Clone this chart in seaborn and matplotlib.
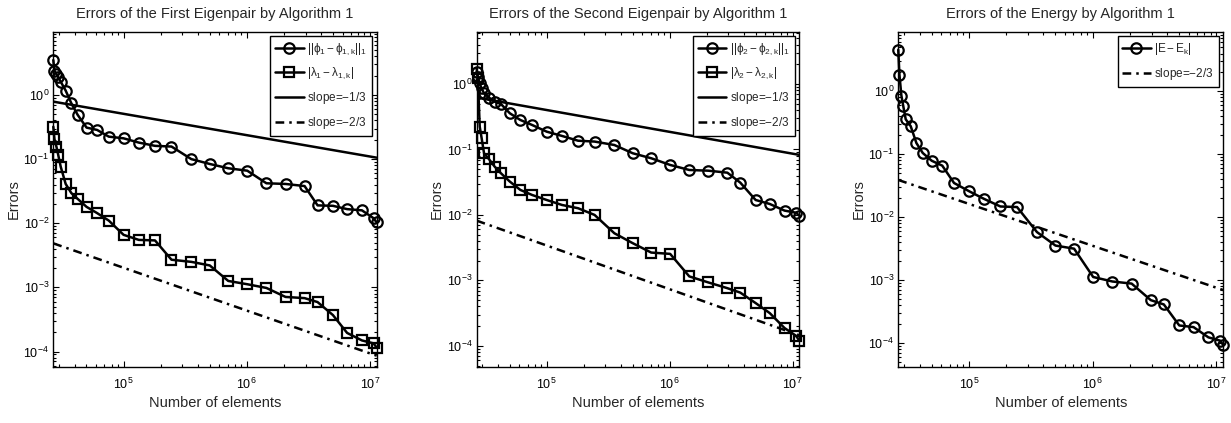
import numpy as np
import pandas as pd
import matplotlib
matplotlib.use("Agg")
import matplotlib.pyplot as plt
import seaborn as sns
from matplotlib.ticker import LogLocator, NullFormatter

# ---------------- data ----------------
n_elements = [26900, 27500, 28500, 29500, 30900, 33900, 37700, 42400, 50100, 61000,
              75900, 100000, 133000, 180000, 245000, 355000, 501000, 708000, 1010000,
              1445000, 2065000, 2950000, 3760000, 5010000, 6530000, 8610000, 10700000,
              11350000]

phi1_err = [3.5, 2.39, 2.12, 1.88, 1.61, 1.17, 0.74, 0.49, 0.31, 0.285, 0.224, 0.211,
            0.181, 0.161, 0.157, 0.100, 0.084, 0.072, 0.066, 0.042, 0.041, 0.038, 0.019,
            0.0187, 0.0166, 0.0159, 0.0120, 0.0103]
lam1_err = [0.32, 0.204, 0.157, 0.116, 0.076, 0.041, 0.0295, 0.024, 0.018, 0.0144, 0.011,
            0.0066, 0.0055, 0.0054, 0.0027, 0.0025, 0.0022, 0.00126, 0.00112, 0.00098,
            0.00071, 0.00068, 0.00059, 0.00037, 0.000195, 0.000149, 0.000134, 0.000115]

phi2_err = [1.54, 1.29, 1.02, 0.86, 0.72, 0.62, 0.537, 0.495, 0.357, 0.282, 0.237, 0.187,
            0.161, 0.136, 0.132, 0.117, 0.0875, 0.0734, 0.058, 0.0486, 0.0474, 0.0442,
            0.0311, 0.0169, 0.0147, 0.01164, 0.0108, 0.0097]
lam2_err = [1.7, 1.25, 0.223, 0.151, 0.0875, 0.071, 0.0547, 0.0433, 0.0323, 0.0241, 0.0202,
            0.0169, 0.0142, 0.01265, 0.010, 0.00525, 0.0037, 0.00266, 0.00254, 0.00115,
            0.00093, 0.00076, 0.00065, 0.00045, 0.000316, 0.000187, 0.000142, 0.00012]

energy_err = [4.6, 1.84, 0.86, 0.59, 0.36, 0.28, 0.151, 0.105, 0.079, 0.066, 0.035, 0.026,
              0.0195, 0.0148, 0.0145, 0.0058, 0.00354, 0.00316, 0.00112, 0.00095, 0.00088,
              0.00048, 0.00041, 0.00019, 0.000179, 0.000123, 0.000109, 0.000093]

# reference slope lines (end points)
ref_x = [n_elements[0], n_elements[-1]]
ref1_slope13 = [0.787, 0.1053]
ref1_slope23 = [0.00486, 0.000086]
ref2_slope13 = [0.62, 0.0827]
ref2_slope23 = [0.00818, 0.000145]
ref3_slope23 = [0.0391, 0.000695]

titles = ["Errors of the First Eigenpair by Algorithm 1",
          "Errors of the Second Eigenpair by Algorithm 1",
          "Errors of the Energy by Algorithm 1"]
ylims = [(5.8e-5, 9.7), (4.8e-5, 6.3), (4.2e-5, 8.9)]

# ---------------- style ----------------
sns.set_theme(style="ticks")
plt.rcParams["font.family"] = ["Liberation Sans", "DejaVu Sans"]
plt.rcParams["mathtext.fontset"] = "custom"
plt.rcParams["mathtext.rm"] = "Liberation Sans"
plt.rcParams["mathtext.it"] = "Liberation Sans"
plt.rcParams["mathtext.bf"] = "Liberation Sans:bold"
plt.rcParams["axes.edgecolor"] = "black"
plt.rcParams["axes.linewidth"] = 1.0

fig = plt.figure(figsize=(12.31, 4.23), dpi=100)
positions = [[0.0433, 0.1331, 0.2627, 0.792],
             [0.3872, 0.1331, 0.2621, 0.792],
             [0.7297, 0.1331, 0.2640, 0.792]]
axes = [fig.add_axes(p) for p in positions]

LW = 1.8
dashdot = (0, (3.5, 2.0, 1.0, 2.0))

circ = dict(marker="o", markersize=7.5, markerfacecolor="none", markeredgecolor="black",
            markeredgewidth=1.6)
sq = dict(marker="s", markersize=6.5, markerfacecolor="none", markeredgecolor="black",
          markeredgewidth=1.6)


def series(ax, x, y, label, clip=True, **kw):
    df = pd.DataFrame({"x": x, "y": y})
    sns.lineplot(data=df, x="x", y="y", ax=ax, color="black", linewidth=LW,
                 label=label, sort=False, estimator=None, **kw)
    if not clip:
        ax.lines[-1].set_clip_on(False)


# panel 1
ax = axes[0]
series(ax, n_elements, phi1_err, r"$||\phi_1-\phi_{1,k}||_1$", clip=False, **circ)
series(ax, n_elements, lam1_err, r"$|\lambda_1-\lambda_{1,k}|$", clip=False, **sq)
series(ax, ref_x, ref1_slope13, r"slope=$-$1/3")
series(ax, ref_x, ref1_slope23, r"slope=$-$2/3", linestyle=dashdot)

# panel 2
ax = axes[1]
series(ax, n_elements, phi2_err, r"$||\phi_2-\phi_{2,k}||_1$", clip=False, **circ)
series(ax, n_elements, lam2_err, r"$|\lambda_2-\lambda_{2,k}|$", clip=False, **sq)
series(ax, ref_x, ref2_slope13, r"slope=$-$1/3")
series(ax, ref_x, ref2_slope23, r"slope=$-$2/3", linestyle=dashdot)

# panel 3
ax = axes[2]
series(ax, n_elements, energy_err, r"$|E-E_k|$", clip=False, **circ)
series(ax, ref_x, ref3_slope23, r"slope=$-$2/3", linestyle=dashdot)

for ax, title, yl in zip(axes, titles, ylims):
    ax.set_xscale("log")
    ax.set_yscale("log")
    ax.set_xlim(n_elements[0], n_elements[-1])
    ax.set_ylim(*yl)
    ax.set_title(title, fontsize=10.5, pad=10)
    ax.set_xlabel("Number of elements", fontsize=10.5, labelpad=3)
    ax.set_ylabel("Errors", fontsize=10.5, labelpad=2)
    ax.xaxis.set_major_locator(LogLocator(base=10, numticks=10))
    ax.yaxis.set_major_locator(LogLocator(base=10, numticks=10))
    ax.xaxis.set_minor_locator(LogLocator(base=10, subs=np.arange(2, 10), numticks=20))
    ax.yaxis.set_minor_locator(LogLocator(base=10, subs=np.arange(2, 10), numticks=20))
    ax.xaxis.set_minor_formatter(NullFormatter())
    ax.yaxis.set_minor_formatter(NullFormatter())
    ax.tick_params(which="both", direction="in", top=True, right=True, colors="black",
                   labelsize=9, width=0.8)
    ax.tick_params(which="major", length=4.5)
    ax.tick_params(axis="x", which="major", pad=7)
    ax.tick_params(axis="y", which="major", pad=3)
    ax.tick_params(which="minor", length=2.5)
    for sp in ax.spines.values():
        sp.set_visible(True)
        sp.set_color("black")
        sp.set_linewidth(1.0)
        sp.set_zorder(1)
    ax.grid(False)
    leg = ax.legend(loc="upper right", fontsize=8.5, frameon=True, fancybox=False,
                    edgecolor="black", framealpha=1, borderaxespad=0.4,
                    handlelength=2.4, labelspacing=0.75, handletextpad=0.3,
                    borderpad=0.4)
    leg.get_frame().set_linewidth(1.0)
    leg.set_zorder(5)

fig.savefig("out.png", dpi=100, facecolor="white")
